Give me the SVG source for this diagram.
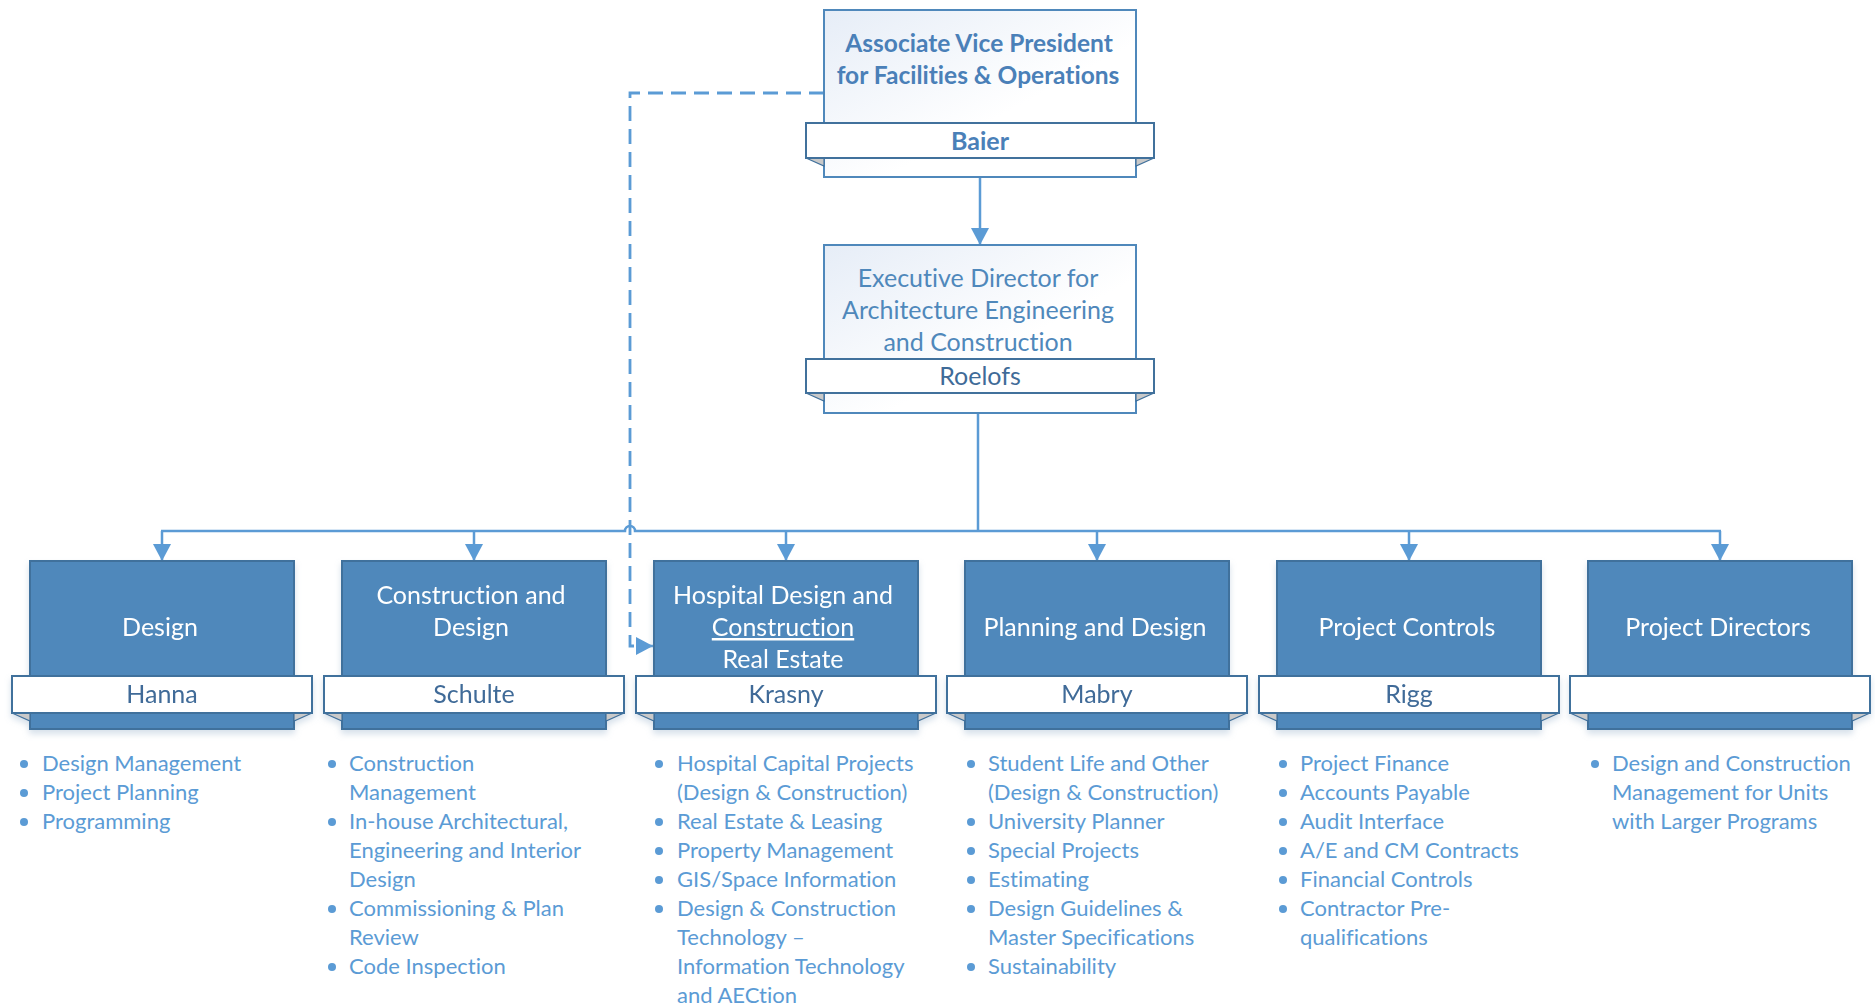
<svg xmlns="http://www.w3.org/2000/svg" width="1875" height="1006" viewBox="0 0 1875 1006">
<style>
.topbox{fill:url(#lg);stroke:#4f88bb;stroke-width:2}
.band{fill:#ffffff;stroke:#41719c;stroke-width:2}
.box{fill:#4f88bb;stroke:#41719c;stroke-width:2}
.fold{fill:#c9c9c9;stroke:#41719c;stroke-width:1.2}
text{font-variant-ligatures:none}
.t{font-family:Lato,"Open Sans",sans-serif;text-anchor:middle}
.title{font-size:24.5px;font-weight:bold;fill:#4a80b8}
.sub{font-size:25px;fill:#4f88bb}
.name{font-size:25px;fill:#3f6b98}
.namebold{font-size:25px;font-weight:bold;fill:#4a80b8}
.wt{font-size:25px;fill:#ffffff}
.li{font-family:Lato,"Open Sans",sans-serif;font-size:22px;fill:#5b9bd5}
.dot{fill:#5b9bd5}
.conn{fill:none;stroke:#5b9bd5;stroke-width:2.5}
.dash{fill:none;stroke:#5b9bd5;stroke-width:2.8;stroke-dasharray:15 8}
</style>
<defs>
<linearGradient id="lg" x1="0" y1="0" x2="1" y2="1">
<stop offset="0" stop-color="#e6edf7"/>
<stop offset="0.6" stop-color="#ffffff"/>
</linearGradient>
<marker id="ah" markerUnits="userSpaceOnUse" markerWidth="19" markerHeight="19" refX="17" refY="9" orient="auto">
<path d="M0,0 L17,9 L0,18 z" fill="#5b9bd5"/>
</marker>
<filter id="sh" x="-10%" y="-10%" width="120%" height="130%">
<feDropShadow dx="0" dy="4" stdDeviation="3" flood-color="#8aa7c4" flood-opacity="0.35"/>
</filter>
</defs>

<g id="connectors">
<path class="conn" d="M980,177 V245" marker-end="url(#ah)"/>
<path class="conn" d="M978,413 V531"/>
<path class="conn" d="M161,531 H625 A5,5 0 0 1 635,531 H1721"/>
<path class="conn" d="M162,531 V561" marker-end="url(#ah)"/>
<path class="conn" d="M474,531 V561" marker-end="url(#ah)"/>
<path class="conn" d="M786,531 V561" marker-end="url(#ah)"/>
<path class="conn" d="M1097,531 V561" marker-end="url(#ah)"/>
<path class="conn" d="M1409,531 V561" marker-end="url(#ah)"/>
<path class="conn" d="M1720,531 V561" marker-end="url(#ah)"/>
<path class="dash" d="M824,93 H630 V646 H638"/>
<path class="conn" d="M638,646 H653" marker-end="url(#ah)"/>
</g>

<g id="avp">
<rect class="topbox" x="824" y="10" width="312" height="167"/>
<path class="fold" d="M806,158 L824,158 L824,166 z"/>
<path class="fold" d="M1154,158 L1136,158 L1136,166 z"/>
<rect class="band" x="806" y="123" width="348" height="35"/>
<text class="t title" x="979" y="52">Associate Vice President</text>
<text class="t title" x="978" y="84">for Facilities &amp; Operations</text>
<text class="t namebold" x="980" y="150">Baier</text>
</g>

<g id="exec">
<rect class="topbox" x="824" y="245" width="312" height="168"/>
<path class="fold" d="M806,393 L824,393 L824,401 z"/>
<path class="fold" d="M1154,393 L1136,393 L1136,401 z"/>
<rect class="band" x="806" y="359" width="348" height="34"/>
<text class="t sub" x="978" y="287">Executive Director for</text>
<text class="t sub" x="978" y="319">Architecture Engineering</text>
<text class="t sub" x="978" y="351">and Construction</text>
<text class="t name" x="980" y="385">Roelofs</text>
</g>

<g id="design" filter="url(#sh)">
<rect class="box" x="30" y="561" width="264" height="168"/>
<path class="fold" d="M12,713 L30,713 L30,721 z"/>
<path class="fold" d="M312,713 L294,713 L294,721 z"/>
<rect class="band" x="12" y="676" width="300" height="37"/>
<text class="t wt" x="160" y="636">Design</text>
<text class="t name" x="162" y="703">Hanna</text>
</g>

<g id="construction" filter="url(#sh)">
<rect class="box" x="342" y="561" width="264" height="168"/>
<path class="fold" d="M324,713 L342,713 L342,721 z"/>
<path class="fold" d="M624,713 L606,713 L606,721 z"/>
<rect class="band" x="324" y="676" width="300" height="37"/>
<text class="t wt" x="471" y="604">Construction and</text>
<text class="t wt" x="471" y="636">Design</text>
<text class="t name" x="474" y="703">Schulte</text>
</g>

<g id="hospital" filter="url(#sh)">
<rect class="box" x="654" y="561" width="264" height="168"/>
<path class="fold" d="M636,713 L654,713 L654,721 z"/>
<path class="fold" d="M936,713 L918,713 L918,721 z"/>
<rect class="band" x="636" y="676" width="300" height="37"/>
<text class="t wt" x="783" y="604">Hospital Design and</text>
<text class="t wt" x="783" y="636" text-decoration="underline">Construction</text>
<text class="t wt" x="783" y="668">Real Estate</text>
<text class="t name" x="786" y="703">Krasny</text>
</g>

<g id="planning" filter="url(#sh)">
<rect class="box" x="965" y="561" width="264" height="168"/>
<path class="fold" d="M947,713 L965,713 L965,721 z"/>
<path class="fold" d="M1247,713 L1229,713 L1229,721 z"/>
<rect class="band" x="947" y="676" width="300" height="37"/>
<text class="t wt" x="1095" y="636">Planning and Design</text>
<text class="t name" x="1097" y="703">Mabry</text>
</g>

<g id="controls" filter="url(#sh)">
<rect class="box" x="1277" y="561" width="264" height="168"/>
<path class="fold" d="M1259,713 L1277,713 L1277,721 z"/>
<path class="fold" d="M1559,713 L1541,713 L1541,721 z"/>
<rect class="band" x="1259" y="676" width="300" height="37"/>
<text class="t wt" x="1407" y="636">Project Controls</text>
<text class="t name" x="1409" y="703">Rigg</text>
</g>

<g id="directors" filter="url(#sh)">
<rect class="box" x="1588" y="561" width="264" height="168"/>
<path class="fold" d="M1570,713 L1588,713 L1588,721 z"/>
<path class="fold" d="M1870,713 L1852,713 L1852,721 z"/>
<rect class="band" x="1570" y="676" width="300" height="37"/>
<text class="t wt" x="1718" y="636">Project Directors</text>
</g>

<g id="list-design">
<circle class="dot" cx="24" cy="764" r="4"/>
<circle class="dot" cx="24" cy="793" r="4"/>
<circle class="dot" cx="24" cy="822" r="4"/>
<text class="li" x="42" y="771">Design Management</text>
<text class="li" x="42" y="800">Project Planning</text>
<text class="li" x="42" y="829">Programming</text>
</g>

<g id="list-construction">
<circle class="dot" cx="332" cy="764" r="4"/>
<circle class="dot" cx="332" cy="822" r="4"/>
<circle class="dot" cx="332" cy="909" r="4"/>
<circle class="dot" cx="332" cy="967" r="4"/>
<text class="li" x="349" y="771">Construction</text>
<text class="li" x="349" y="800">Management</text>
<text class="li" x="349" y="829">In-house Architectural,</text>
<text class="li" x="349" y="858">Engineering and Interior</text>
<text class="li" x="349" y="887">Design</text>
<text class="li" x="349" y="916">Commissioning &amp; Plan</text>
<text class="li" x="349" y="945">Review</text>
<text class="li" x="349" y="974">Code Inspection</text>
</g>

<g id="list-hospital">
<circle class="dot" cx="659" cy="764" r="4"/>
<circle class="dot" cx="659" cy="822" r="4"/>
<circle class="dot" cx="659" cy="851" r="4"/>
<circle class="dot" cx="659" cy="880" r="4"/>
<circle class="dot" cx="659" cy="909" r="4"/>
<text class="li" x="677" y="771">Hospital Capital Projects</text>
<text class="li" x="677" y="800">(Design &amp; Construction)</text>
<text class="li" x="677" y="829">Real Estate &amp; Leasing</text>
<text class="li" x="677" y="858">Property Management</text>
<text class="li" x="677" y="887">GIS/Space Information</text>
<text class="li" x="677" y="916">Design &amp; Construction</text>
<text class="li" x="677" y="945">Technology –</text>
<text class="li" x="677" y="974">Information Technology</text>
<text class="li" x="677" y="1003">and AECtion</text>
</g>

<g id="list-planning">
<circle class="dot" cx="971" cy="764" r="4"/>
<circle class="dot" cx="971" cy="822" r="4"/>
<circle class="dot" cx="971" cy="851" r="4"/>
<circle class="dot" cx="971" cy="880" r="4"/>
<circle class="dot" cx="971" cy="909" r="4"/>
<circle class="dot" cx="971" cy="967" r="4"/>
<text class="li" x="988" y="771">Student Life and Other</text>
<text class="li" x="988" y="800">(Design &amp; Construction)</text>
<text class="li" x="988" y="829">University Planner</text>
<text class="li" x="988" y="858">Special Projects</text>
<text class="li" x="988" y="887">Estimating</text>
<text class="li" x="988" y="916">Design Guidelines &amp;</text>
<text class="li" x="988" y="945">Master Specifications</text>
<text class="li" x="988" y="974">Sustainability</text>
</g>

<g id="list-controls">
<circle class="dot" cx="1283" cy="764" r="4"/>
<circle class="dot" cx="1283" cy="793" r="4"/>
<circle class="dot" cx="1283" cy="822" r="4"/>
<circle class="dot" cx="1283" cy="851" r="4"/>
<circle class="dot" cx="1283" cy="880" r="4"/>
<circle class="dot" cx="1283" cy="909" r="4"/>
<text class="li" x="1300" y="771">Project Finance</text>
<text class="li" x="1300" y="800">Accounts Payable</text>
<text class="li" x="1300" y="829">Audit Interface</text>
<text class="li" x="1300" y="858">A/E and CM Contracts</text>
<text class="li" x="1300" y="887">Financial Controls</text>
<text class="li" x="1300" y="916">Contractor Pre-</text>
<text class="li" x="1300" y="945">qualifications</text>
</g>

<g id="list-directors">
<circle class="dot" cx="1595" cy="764" r="4"/>
<text class="li" x="1612" y="771">Design and Construction</text>
<text class="li" x="1612" y="800">Management for Units</text>
<text class="li" x="1612" y="829">with Larger Programs</text>
</g>
</svg>
